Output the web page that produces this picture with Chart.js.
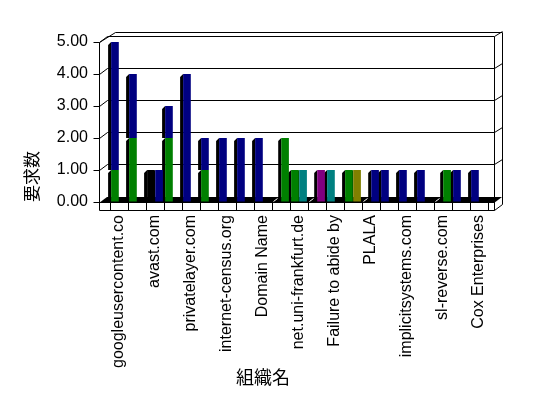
<!DOCTYPE html>
<html>
<head>
<meta charset="utf-8">
<script src="https://cdn.jsdelivr.net/npm/chart.js"></script>
<style>
  body { margin: 0; background: #fff; }
</style>
</head>
<body>
<canvas id="orgChart" width="548" height="398"></canvas>
<script>

// every other organisation name is not printed on the axis
const orgNames = ['googleusercontent.co', '', 'avast.com', '', 'privatelayer.com', '',
  'internet-census.org', '', 'Domain Name', '', 'net.uni-frankfurt.de', '',
  'Failure to abide by', '', 'PLALA', '', 'implicitsystems.com', '',
  'sl-reverse.com', '', 'Cox Enterprises'];

// left column in each category (null = nothing drawn, 0 = flat tile)
const greenLeft  = [1, 2, null, 2, null, 1, null, null, null, null, 1, null, null, 1, null, null, null, null, null, null, null];
const blackLeft  = [null, null, 1, null, null, null, null, null, null, null, null, null, null, null, null, null, null, null, null, null, null];
const tealLeft   = [null, null, null, null, null, null, null, null, null, null, null, null, 1, null, null, null, null, null, null, null, null];
const blueLeft   = [4, 2, null, 1, 4, 1, 2, 2, 2, 0, null, 0, null, null, 0, 1, 1, 1, 0, 1, 1];

// right column in each category
const blueRight   = [null, null, 1, null, null, null, null, null, null, null, null, null, null, null, 1, null, null, null, null, null, null];
const greenRight  = [null, null, null, null, null, null, null, null, null, 2, null, null, null, null, null, null, null, null, 1, null, null];
const tealRight   = [null, null, null, null, null, null, null, null, null, null, 1, null, null, null, null, null, null, null, null, null, null];
const purpleRight = [null, null, null, null, null, null, null, null, null, null, null, 1, null, null, null, null, null, null, null, null, null];
const oliveRight  = [null, null, null, null, null, null, null, null, null, null, null, null, null, 1, null, null, null, null, null, null, null];

const yMax = 5;
const xTitle = '組織名';
const yTitle = '要求数';

const latin = "'Liberation Sans', 'Noto Sans CJK JP', sans-serif";
const cjk = "'Noto Sans CJK JP', sans-serif";

function line(ctx, x1, y1, x2, y2) {
  ctx.beginPath();
  ctx.moveTo(Math.round(x1) + 0.5, Math.round(y1) + 0.5);
  ctx.lineTo(Math.round(x2) + 0.5, Math.round(y2) + 0.5);
  ctx.stroke();
}

// old style 3d box: walls, floor slab, dark side of every column
const frame3d = {
  id: 'frame3d',
  beforeDatasetsDraw(chart) {
    const ctx = chart.ctx;
    const a = chart.chartArea;
    const ys = chart.scales.y;
    const L = a.left - 11, R = a.right + 6, B = a.bottom, T = a.top;
    ctx.save();
    ctx.strokeStyle = '#000';
    ctx.lineWidth = 1;

    // floor
    ctx.fillStyle = '#000';
    ctx.beginPath();
    ctx.moveTo(L, B + 1);
    ctx.lineTo(R, B + 1);
    ctx.lineTo(R + 8, B - 5);
    ctx.lineTo(L + 8, B - 5);
    ctx.closePath();
    ctx.fill();

    for (let v = 0; v <= yMax; v++) {
      const yv = Math.round(ys.getPixelForValue(v));
      line(ctx, L - 6, yv, L, yv);
      if (v == 0) continue;
      line(ctx, L, yv, L + 8, yv - 6);
      line(ctx, L + 8, yv - 6, R, yv - 6);
      line(ctx, R, yv - 6, R + 8, yv - 11);
    }

    line(ctx, L, T, L, B + 8);
    line(ctx, L, T, L + 16, T - 10);
    line(ctx, L + 16, T - 10, R + 8, T - 10);
    line(ctx, R + 8, T - 10, R + 8, B + 2);
    line(ctx, R, T - 6, R, B + 8);
    line(ctx, L, B + 8, R, B + 8);
    line(ctx, R, B + 8, R + 8, B + 2);

    chart.data.datasets.forEach((ds, i) => {
      const meta = chart.getDatasetMeta(i);
      meta.data.forEach((bar, j) => {
        const v = ds.data[j];
        if (v === null) return;
        const xl = bar.x - bar.width / 2;
        const top = Math.min(bar.y, bar.base);
        const bottom = Math.max(bar.y, bar.base);
        if (v === 0) {
          ctx.strokeStyle = '#fff';
          line(ctx, xl, bottom - 1, xl + 4, bottom - 4);
          ctx.strokeStyle = '#000';
          return;
        }
        ctx.fillStyle = '#000';
        ctx.beginPath();
        ctx.moveTo(xl, top);
        ctx.lineTo(xl - 3, top + 3);
        ctx.lineTo(xl - 3, bottom);
        ctx.lineTo(xl, bottom);
        ctx.closePath();
        ctx.fill();
      });
    });
    ctx.restore();
  },
  afterDraw(chart) {
    const ctx = chart.ctx;
    const a = chart.chartArea;
    ctx.save();
    ctx.fillStyle = '#000';
    ctx.font = "18px " + cjk;
    ctx.textAlign = 'center';
    ctx.textBaseline = 'middle';
    ctx.fillText(xTitle, a.left + (a.right - a.left) * 0.405, chart.height - 21);
    ctx.restore();
  }
};

Chart.defaults.color = '#000';

new Chart(document.getElementById('orgChart'), {
  type: 'bar',
  data: {
    labels: orgNames,
    datasets: [
      { label: 'g', data: greenLeft, stack: 'L', backgroundColor: '#008000' },
      { label: 'k', data: blackLeft, stack: 'L', backgroundColor: '#000000' },
      { label: 't', data: tealLeft, stack: 'L', backgroundColor: '#008080' },
      { label: 'b', data: blueLeft, stack: 'L', backgroundColor: '#000080' },
      { label: 'b2', data: blueRight, stack: 'R', backgroundColor: '#000080' },
      { label: 'g2', data: greenRight, stack: 'R', backgroundColor: '#008000' },
      { label: 't2', data: tealRight, stack: 'R', backgroundColor: '#008080' },
      { label: 'p2', data: purpleRight, stack: 'R', backgroundColor: '#800080' },
      { label: 'o2', data: oliveRight, stack: 'R', backgroundColor: '#808000' }
    ]
  },
  options: {
    responsive: false,
    animation: false,
    devicePixelRatio: 1,
    layout: { padding: { top: 42, right: 60, left: 0, bottom: 0 } },
    datasets: { bar: { categoryPercentage: 0.9, barPercentage: 0.95 } },
    plugins: {
      legend: { display: false },
      tooltip: { enabled: false }
    },
    scales: {
      x: {
        stacked: true,
        grid: { display: true, drawOnChartArea: false, tickLength: 8, color: '#000' },
        border: { display: false },
        ticks: {
          autoSkip: false,
          minRotation: 90,
          maxRotation: 90,
          padding: 5,
          font: { size: 16, family: latin }
        },
        afterFit: function(scale) { scale.height = 196; }
      },
      y: {
        stacked: true,
        min: 0,
        max: yMax,
        grid: { drawOnChartArea: false, drawTicks: false },
        border: { display: false },
        ticks: {
          stepSize: 1,
          padding: 22,
          font: { size: 16, family: latin },
          callback: function(v) { return v.toFixed(2); }
        },
        title: {
          display: true,
          text: yTitle,
          align: 'start',
          padding: { top: 21, bottom: 0 },
          font: { size: 17, family: cjk }
        },
        afterFit: function(scale) { scale.width = 110; }
      }
    }
  },
  plugins: [frame3d]
});
</script>
</body>
</html>
